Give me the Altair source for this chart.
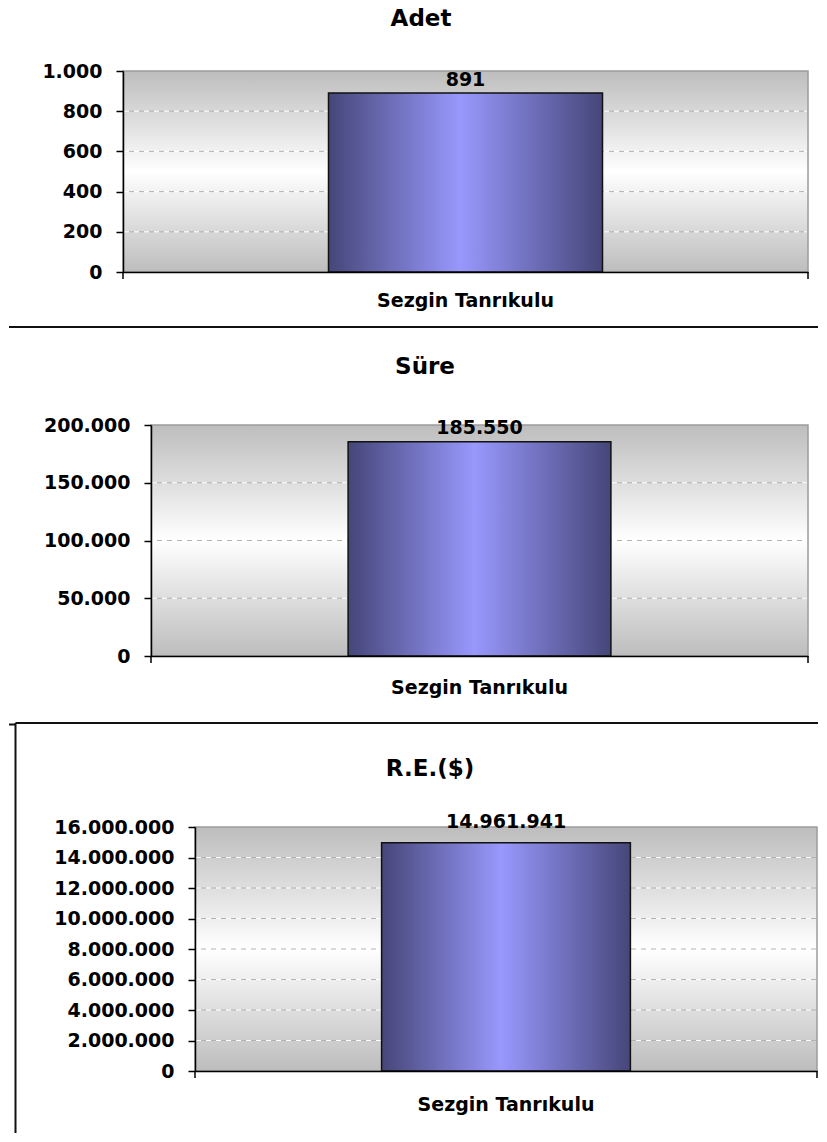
import altair as alt
import pandas as pd

# ---- data ----
titles = ["Adet", "Süre", "R.E.($)"]
category = "Sezgin Tanrıkulu"
values = [891, 185550, 14961941]
y_max = [1000, 200000, 16000000]
y_ticks = [
    [0, 200, 400, 600, 800, 1000],
    [0, 50000, 100000, 150000, 200000],
    [0, 2000000, 4000000, 6000000, 8000000, 10000000, 12000000, 14000000, 16000000],
]

# ---- layout (pixels, per panel) ----
FONT = "DejaVu Sans"
PANEL_W = 811
TITLE_SIZE = 23
layout = [
    dict(h=320, l=115, r=800, t=63, b=264, tx=413, ty=0, lp=34, dy=-7),
    dict(h=394, l=143, r=800, t=97, b=328, tx=417, ty=28, lp=37, dy=-8),
    dict(h=412, l=187, r=809, t=105, b=349, tx=422, ty=36, lp=39, dy=-15),
]

plot_grad = alt.LinearGradient(
    gradient="linear",
    stops=[
        alt.GradientStop(color="#bdbdbd", offset=0),
        alt.GradientStop(color="#ffffff", offset=0.5),
        alt.GradientStop(color="#bdbdbd", offset=1),
    ],
    x1=0, x2=0, y1=0, y2=1,
)
bar_grad = alt.LinearGradient(
    gradient="linear",
    stops=[
        alt.GradientStop(color="#46467a", offset=0),
        alt.GradientStop(color="#9898fd", offset=0.48),
        alt.GradientStop(color="#46467a", offset=1),
    ],
    x1=0, x2=1, y1=0, y2=0,
)


def panel(i):
    L = layout[i]
    df = pd.DataFrame({"cat": [category], "value": [values[i]], "lo": [0], "hi": [y_max[i]]})
    grid_df = pd.DataFrame({"tick": [t for t in y_ticks[i] if 0 < t < y_max[i]]})
    one = pd.DataFrame({"k": [0]})

    yscale = alt.Scale(domain=[0, y_max[i]], range=[L["b"], L["t"]], nice=False, zero=True)
    xscale = alt.Scale(domain=[category], range=[L["l"], L["r"]], paddingInner=0, paddingOuter=0)

    yaxis = alt.Axis(
        values=y_ticks[i], format=",d", orient="left", offset=-L["l"],
        domainColor="black", domainWidth=1.5, tickColor="black", tickWidth=1.5,
        tickSize=7, labelPadding=14, labelFont=FONT, labelFontSize=19,
        labelFontWeight="bold", labelColor="black", grid=False,
        labelOverlap=False, labelFlush=False, zindex=1, title=None,
    )
    xaxis = alt.Axis(
        orient="bottom", offset=-(L["h"] - L["b"]), ticks=False, tickSize=0,
        domainColor="black", domainWidth=1.5, labelAngle=0, labelFont=FONT,
        labelFontSize=19, labelFontWeight="bold", labelColor="black",
        labelBaseline="alphabetic", labelPadding=L["lp"], grid=False,
        zindex=1, title=None, labelLimit=0,
    )
    X = lambda: alt.X("cat:N", scale=xscale, axis=xaxis)
    Y = lambda f: alt.Y(f, scale=yscale, axis=yaxis)

    bg = alt.Chart(df).mark_rect(fill=plot_grad, stroke="#9c9c9c", strokeWidth=1.5).encode(
        x=X(), y=Y("hi:Q"), y2="lo:Q",
    )
    grid_w = alt.Chart(grid_df).mark_rule(color="#ffffff", strokeWidth=1, strokeDash=[5, 5]).encode(
        y=Y("tick:Q"), x=alt.value(L["l"] + 1), x2=alt.value(L["r"] - 1),
    )
    grid_g = alt.Chart(grid_df).mark_rule(color="#b3b3b3", strokeWidth=1, strokeDash=[5, 5], strokeDashOffset=5).encode(
        y=Y("tick:Q"), x=alt.value(L["l"] + 1), x2=alt.value(L["r"] - 1),
    )
    bar = alt.Chart(df).mark_bar(
        fill=bar_grad, stroke="#111111", strokeWidth=1.5, width=alt.RelativeBandSize(0.4)
    ).encode(x=X(), y=Y("value:Q"))
    lab = alt.Chart(df).mark_text(
        font=FONT, fontSize=19, fontWeight="bold", color="black",
        baseline="alphabetic", dy=L["dy"],
    ).encode(x=X(), y=Y("value:Q"), text=alt.Text("value:Q", format=",d"))
    ttl = alt.Chart(one).mark_text(
        text=titles[i], font=FONT, fontSize=TITLE_SIZE, fontWeight="bold", color="black",
        baseline="top", align="center",
    ).encode(x=alt.value(L["tx"]), y=alt.value(L["ty"]))
    t_left = alt.Chart(one).mark_rule(color="black", strokeWidth=1.5).encode(
        x=alt.value(L["l"]), y=alt.value(L["b"]), y2=alt.value(L["b"] + 7))
    t_right = alt.Chart(one).mark_rule(color="black", strokeWidth=1.5).encode(
        x=alt.value(L["r"]), y=alt.value(L["b"]), y2=alt.value(L["b"] + 7))

    layers = [bg, grid_w, grid_g, bar, lab, ttl, t_left, t_right]

    if i == 0:
        layers.append(alt.Chart(one).mark_rule(color="#111111", strokeWidth=2).encode(
            x=alt.value(1), x2=alt.value(PANEL_W - 1), y=alt.value(L["h"] - 1)))
    if i == 2:
        layers.append(alt.Chart(one).mark_rule(color="#111111", strokeWidth=2).encode(
            x=alt.value(7.5), x2=alt.value(PANEL_W - 1), y=alt.value(1)))
        layers.append(alt.Chart(one).mark_rule(color="#111111", strokeWidth=2).encode(
            x=alt.value(7.5), y=alt.value(1), y2=alt.value(L["h"] - 1)))
        layers.append(alt.Chart(one).mark_rule(color="#111111", strokeWidth=2).encode(
            x=alt.value(1), x2=alt.value(7.5), y=alt.value(2.5)))

    return alt.layer(*layers).properties(width=PANEL_W, height=L["h"])


chart = (
    alt.vconcat(panel(0), panel(1), panel(2), spacing=0)
    .properties(padding=0, background="white")
    .configure(
        locale=alt.Locale(
            number=alt.NumberLocale(decimal=",", thousands=".", grouping=[3], currency=["", " TL"])
        )
    )
    .configure_view(stroke="transparent", strokeWidth=0)
)

chart.save("out.html", embed_options={"renderer": "svg", "actions": False})
